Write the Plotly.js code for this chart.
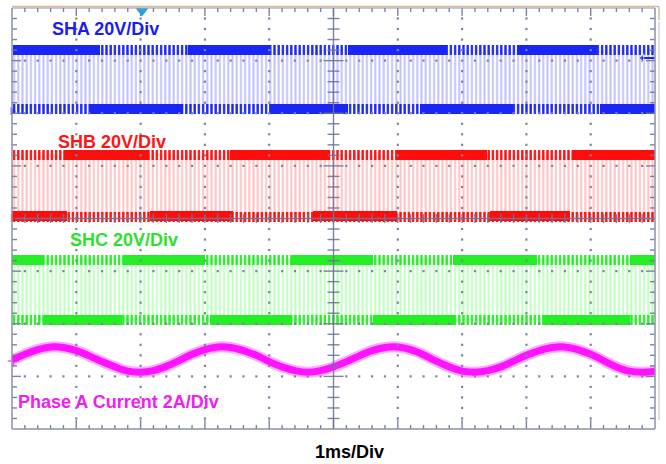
<!DOCTYPE html>
<html><head><meta charset="utf-8">
<script src="https://cdn.plot.ly/plotly-3.0.1.min.js"></script>
<style>html,body{margin:0;padding:0;background:#fff;}#chart{width:666px;height:464px;}</style>
</head><body><div id="chart"></div>
<script>
// ---------- data (time in ms, amplitude in screen divisions) ----------
const channelLabels = ['SHA 20V/Div', 'SHB 20V/Div', 'SHC 20V/Div'];
const currentLabel = 'Phase A Current 2A/Div';
const timebaseLabel = '1ms/Div';
const highLevels = [7.20, 5.21, 3.21];
const lowLevels = [6.08, 4.03, 2.07];
// intervals where each switch node is held high / low (solid bands)
const shaHighStart = [0.02, 2.74, 5.23, 7.85];
const shaHighEnd   = [1.37, 4.01, 6.77, 9.10];
const shaLowStart  = [1.21, 4.01, 6.35, 9.14];
const shaLowEnd    = [2.66, 5.23, 7.79, 10.0];
const shbHighStart = [0.82, 3.39, 5.99, 8.72];
const shbHighEnd   = [2.12, 4.95, 7.39, 10.0];
const shbLowStart  = [0.00, 2.15, 4.68, 7.43];
const shbLowEnd    = [0.86, 3.44, 5.99, 8.68];
const shcHighStart = [0.00, 1.73, 4.35, 6.86, 9.61];
const shcHighEnd   = [0.48, 3.00, 5.61, 8.16, 10.0];
const shcLowStart  = [0.48, 3.08, 5.61, 8.26];
const shcLowEnd    = [1.71, 4.35, 6.89, 9.61];
const currentTime = [0,0.2,0.4,0.6,0.8,1.0,1.2,1.4,1.6,1.8,2.0,2.2,2.4,2.6,2.8,3.0,3.2,3.4,3.6,3.8,4.0,4.2,4.4,4.6,4.8,5.0,5.2,5.4,5.6,5.8,6.0,6.2,6.4,6.6,6.8,7.0,7.2,7.4,7.6,7.8,8.0,8.2,8.4,8.6,8.8,9.0,9.2,9.4,9.6,9.8,10.0];
const currentValue = [1.31,1.42,1.51,1.56,1.55,1.49,1.39,1.28,1.18,1.10,1.08,1.11,1.19,1.30,1.42,1.51,1.56,1.55,1.49,1.40,1.28,1.18,1.11,1.08,1.11,1.18,1.28,1.39,1.49,1.55,1.56,1.51,1.41,1.29,1.18,1.10,1.08,1.11,1.18,1.29,1.40,1.49,1.55,1.56,1.51,1.42,1.30,1.18,1.10,1.08,1.10];

// ---------- styling ----------
const darkColors = ['#1a26f4', '#ff0c0c', '#26ee26'];
const lightColors = ['rgba(120,120,255,0.45)', 'rgba(255,110,110,0.42)', 'rgba(100,255,100,0.42)'];
const textColors = ['#1c1cf0', '#ff1414', '#2ee02e'];
const highStarts = [shaHighStart, shbHighStart, shcHighStart];
const highEnds = [shaHighEnd, shbHighEnd, shcHighEnd];
const lowStarts = [shaLowStart, shbLowStart, shcLowStart];
const lowEnds = [shaLowEnd, shbLowEnd, shcLowEnd];

const W = 666, H = 464, ML = 12, MR = 11, MT = 8, MB = 35;
const PW = W - ML - MR, PH = H - MT - MB;
const dx = 10 / PW, dy = 8 / PH;   // data units per pixel
const PAT = 4.2;

const traces = [];
function patternBar(base, height, color, sol) {
  return {type: 'bar', x: [5], width: [10], base: [base], y: [height],
    marker: {color: 'rgba(0,0,0,0)', line: {width: 0},
      pattern: {shape: '|', fgcolor: color, bgcolor: 'rgba(0,0,0,0)', size: PAT, solidity: sol, fillmode: 'replace'}},
    hoverinfo: 'skip', showlegend: false};
}
function solidBars(starts, ends, level, h, color) {
  return {type: 'bar', x: starts.map((s, i) => (s + ends[i]) / 2), width: starts.map((s, i) => ends[i] - s),
    base: starts.map(() => level - h / 2), y: starts.map(() => h),
    marker: {color: color, line: {width: 0}}, hoverinfo: 'skip', showlegend: false};
}
for (let c = 0; c < 3; c++) {
  const hi = highLevels[c], lo = lowLevels[c];
  traces.push(patternBar(lo, hi - lo, lightColors[c], 0.48));
  traces.push(patternBar(hi - 5 * dy, 10 * dy, darkColors[c], 0.55));
  traces.push(patternBar(lo - 5 * dy, 10 * dy, darkColors[c], 0.55));
  traces.push(solidBars(highStarts[c], highEnds[c], hi, 10 * dy, darkColors[c]));
  traces.push(solidBars(lowStarts[c], lowEnds[c], lo + 0.5 * dy, 10 * dy, darkColors[c]));
}
// phase current
traces.push({type: 'scatter', mode: 'lines', x: currentTime, y: currentValue,
  line: {color: 'rgba(255,70,255,0.45)', width: 11, shape: 'spline'}, hoverinfo: 'skip', showlegend: false});
traces.push({type: 'scatter', mode: 'lines', x: currentTime, y: currentValue,
  line: {color: '#ff12ff', width: 7, shape: 'spline'}, hoverinfo: 'skip', showlegend: false});

// ---------- graticule ----------
const dotX = [], dotY = [];
for (let gx = 1; gx <= 9; gx++) {
  if (gx === 5) continue;
  for (let k = 1; k < 40; k++) { dotX.push(gx); dotY.push(k * 0.2); }
}
for (let gy = 1; gy <= 7; gy++) {
  if (gy === 4) continue;
  for (let k = 1; k < 50; k++) { if (k % 5 === 0) continue; dotX.push(k * 0.2); dotY.push(gy); }
}
traces.push({type: 'scatter', mode: 'markers', x: dotX, y: dotY,
  marker: {size: 2.2, color: '#7a84a2', symbol: 'square'}, hoverinfo: 'skip', showlegend: false});

const tx = [], ty = [];
function seg(x0, y0, x1, y1) { tx.push(x0, x1, null); ty.push(y0, y1, null); }
for (let k = 1; k < 50; k++) {
  const x = k * 0.2, major = k % 5 === 0;
  seg(x, 8, x, 8 - (major ? 8 : 4) * dy);
  seg(x, 0, x, (major ? 9 : 4) * dy);
  seg(x, 4 - 4.5 * dy, x, 4 + 4.5 * dy);
}
for (let k = 1; k < 40; k++) {
  const y = k * 0.2, major = k % 5 === 0;
  seg(0, y, (major ? 9 : 5) * dx, y);
  seg(10, y, 10 - (major ? 9 : 5) * dx, y);
  seg(5 - (major ? 10 : 6) * dx, y, 5 + (major ? 10 : 6) * dx, y);
}
seg(5, 0, 5, 8);
seg(0, 4, 10, 4);
traces.push({type: 'scatter', mode: 'lines', x: tx, y: ty,
  line: {color: 'rgba(110,118,150,0.9)', width: 1.4}, hoverinfo: 'skip', showlegend: false});

// channel reference markers & trigger markers
traces.push({type: 'scatter', mode: 'markers', cliponaxis: false,
  x: [0.005, 0.01, -0.02, -0.02, 0.02], y: [lowLevels[0] - 0.04, lowLevels[1] - 0.02, 2.07 - 0.23, 2.07 - 0.41, 1.29],
  marker: {symbol: ['triangle-right', 'triangle-right', 'square', 'square', 'cross-thin'], size: [7, 7, 4, 4, 8],
    color: [darkColors[0], darkColors[1], darkColors[2], darkColors[2], '#ff12ff'],
    line: {color: [darkColors[0], darkColors[1], darkColors[2], darkColors[2], '#ff12ff'], width: [0, 0, 0, 0, 1.5]}},
  hoverinfo: 'skip', showlegend: false});
traces.push({type: 'scatter', mode: 'markers', cliponaxis: false, x: [(142 - ML) * dx], y: [8 - 3 * dy],
  marker: {symbol: 'triangle-down', size: 11, color: '#23a3e6'}, hoverinfo: 'skip', showlegend: false});
traces.push({type: 'scatter', mode: 'lines+markers', cliponaxis: false,
  x: [(655 - ML) * dx, (642 - ML) * dx], y: [(429 - 58) / PH * 8, (429 - 58) / PH * 8],
  line: {color: '#1a26f4', width: 2}, marker: {symbol: ['line-ns', 'triangle-left'], size: [1, 7], color: '#1a26f4'},
  hoverinfo: 'skip', showlegend: false});

const px2x = p => (p - ML) / PW, px2y = p => (H - MB - p) / PH;
const frame = '#8a90aa';
const shapes = [
  {type: 'line', xref: 'paper', yref: 'paper', x0: 0, x1: 0, y0: 0, y1: 1, line: {color: frame, width: 1.5}},
  {type: 'line', xref: 'paper', yref: 'paper', x0: 1, x1: 1, y0: 0, y1: 1, line: {color: frame, width: 1.5}},
  {type: 'line', xref: 'paper', yref: 'paper', x0: 0, x1: 1, y0: 0, y1: 0, line: {color: frame, width: 1.5}},
  {type: 'line', xref: 'paper', yref: 'paper', x0: 0, x1: 1, y0: 1, y1: 1, line: {color: frame, width: 1}},
  {type: 'line', xref: 'paper', yref: 'paper', x0: px2x(12), x1: px2x(659), y0: px2y(6.5), y1: px2y(6.5), line: {color: '#d8b896', width: 1.5}},
  {type: 'line', xref: 'paper', yref: 'paper', x0: px2x(659), x1: px2x(659), y0: px2y(6.5), y1: px2y(20), line: {color: '#d8b896', width: 1.5}},
  {type: 'line', xref: 'paper', yref: 'paper', x0: px2x(659), x1: px2x(659), y0: px2y(22), y1: px2y(420), line: {color: '#dcdde2', width: 2}}
];

const font = {family: 'Liberation Sans, Arial, sans-serif', size: 18, weight: 'bold'};
function label(text, px, py, color, anchor) {
  return {text: '<b>' + text + '</b>', xref: 'paper', yref: 'paper', x: px2x(px), y: px2y(py),
    xanchor: anchor || 'left', yanchor: 'middle', showarrow: false, font: Object.assign({color: color}, font)};
}
const annotations = [
  label(channelLabels[0], 50, 29, textColors[0]),
  label(channelLabels[1], 56, 142, textColors[1]),
  label(channelLabels[2], 68, 240, textColors[2]),
  label(currentLabel, 16, 402, '#f020f0'),
  label(timebaseLabel, 349, 452, '#000000', 'center')
];

const layout = {
  width: W, height: H, margin: {l: ML, r: MR, t: MT, b: MB, pad: 0},
  paper_bgcolor: '#ffffff', plot_bgcolor: '#ffffff', barmode: 'overlay', bargap: 0,
  showlegend: false, hovermode: false,
  xaxis: {range: [0, 10], visible: false, fixedrange: true},
  yaxis: {range: [0, 8], visible: false, fixedrange: true},
  shapes: shapes, annotations: annotations
};
Plotly.newPlot('chart', traces, layout, {staticPlot: true, displayModeBar: false});
</script></body></html>
